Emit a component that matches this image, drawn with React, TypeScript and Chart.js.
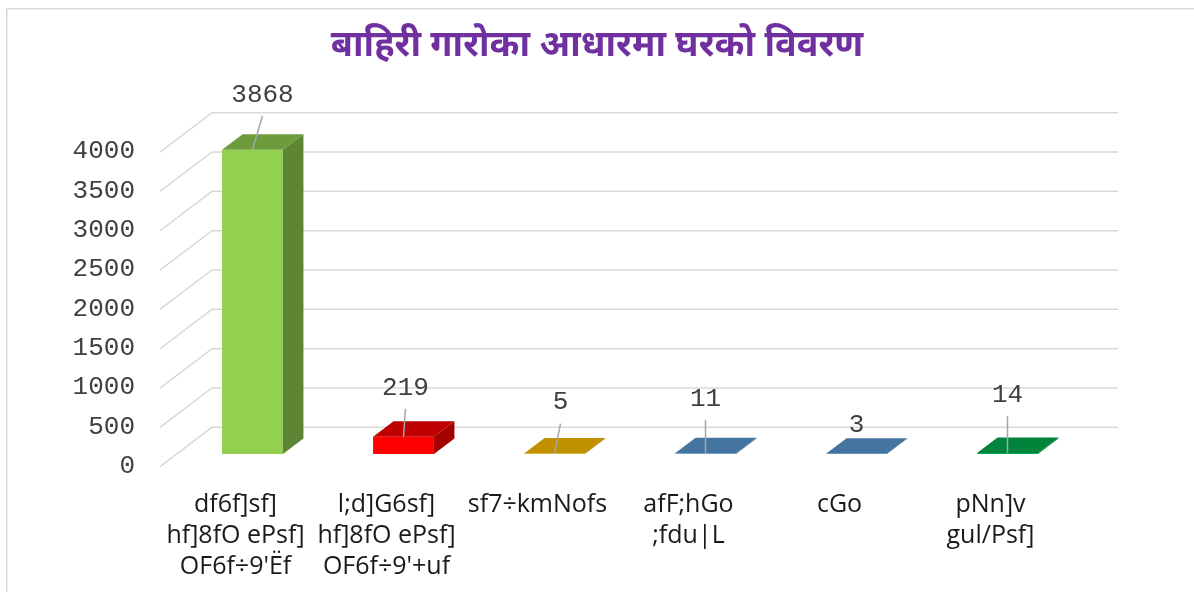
import { useEffect, useRef } from "react";
import { Chart, registerables } from "chart.js";

Chart.register(...registerables);

const titleText = "बाहिरी गारोका आधारमा घरको विवरण";
const categories: string[][] = [
  ["df6f]sf]", "hf]8fO ePsf]", "OF6f÷9'Ëf"],
  ["l;d]G6sf]", "hf]8fO ePsf]", "OF6f÷9'+uf"],
  ["sf7÷kmNofs"],
  ["afF;hGo", ";fdu|L"],
  ["cGo"],
  ["pNn]v", "gul/Psf]"],
];
const values = [3868, 219, 5, 11, 3, 14];
const barColors = ["#92D050", "#FF0000", "#FFC000", "#5B9BD5", "#5B9BD5", "#00B050"];
const yMin = 0;
const yMax = 4000;
const yStep = 500;

// label placement nudges (pixels), styling only
const labelNudgeX = [10, 2, 6, 0, 0, 0];
const labelNudgeY = [55, 49, 51, 54, 29, 58];

const BAR_DX = 20.5;
const BAR_DY = -15.5;
const BACK_DX = 35;
const BACK_DY = -26.7;
const FRONT_DX = -17;
const FRONT_DY = 12.7;
const MONO = "'Liberation Mono', 'DejaVu Sans Mono', monospace";

function shade(hex: string, f: number) {
  const n = parseInt(hex.slice(1), 16);
  const r = Math.round(((n >> 16) & 255) * f);
  const g = Math.round(((n >> 8) & 255) * f);
  const b = Math.round((n & 255) * f);
  return `rgb(${r},${g},${b})`;
}

const threeDPlugin = {
  id: "threeD",
  beforeDraw(chart: any) {
    const ctx = chart.ctx;
    ctx.save();
    ctx.fillStyle = "#ffffff";
    ctx.fillRect(0, 0, chart.width, chart.height);
    ctx.strokeStyle = "#D9D9D9";
    ctx.lineWidth = 1.5;
    ctx.strokeRect(6.75, 8.75, chart.width + 50, chart.height + 50);
    ctx.restore();
  },
  beforeDatasetsDraw(chart: any) {
    const ctx = chart.ctx;
    const ys = chart.scales.y;
    const { left, right } = chart.chartArea;
    ctx.save();
    ctx.strokeStyle = "#D9D9D9";
    ctx.lineWidth = 1.5;
    ys.ticks.forEach((t: any) => {
      const p = ys.getPixelForValue(t.value);
      ctx.beginPath();
      ctx.moveTo(left + FRONT_DX, p + FRONT_DY);
      ctx.lineTo(left + BACK_DX, p + BACK_DY);
      ctx.lineTo(right + BACK_DX, p + BACK_DY);
      ctx.stroke();
    });
    ctx.restore();
  },
  afterDatasetsDraw(chart: any) {
    const ctx = chart.ctx;
    const meta = chart.getDatasetMeta(0);
    ctx.save();
    meta.data.forEach((bar: any, i: number) => {
      const { x, y, base, width } = bar.getProps(["x", "y", "base", "width"], true);
      const L = x - width / 2;
      const R = x + width / 2;
      const c = barColors[i];
      ctx.fillStyle = shade(c, 0.75);
      ctx.beginPath();
      ctx.moveTo(L, y);
      ctx.lineTo(R, y);
      ctx.lineTo(R + BAR_DX, y + BAR_DY);
      ctx.lineTo(L + BAR_DX, y + BAR_DY);
      ctx.closePath();
      ctx.fill();
      ctx.fillStyle = shade(c, 0.64);
      ctx.beginPath();
      ctx.moveTo(R, y);
      ctx.lineTo(R + BAR_DX, y + BAR_DY);
      ctx.lineTo(R + BAR_DX, base + BAR_DY);
      ctx.lineTo(R, base);
      ctx.closePath();
      ctx.fill();
    });
    meta.data.forEach((bar: any, i: number) => {
      const { x, y } = bar.getProps(["x", "y"], true);
      const lx = x + labelNudgeX[i];
      const ly = y - labelNudgeY[i];
      if (labelNudgeY[i] > 35) {
        ctx.strokeStyle = "#A6A6A6";
        ctx.lineWidth = 1.5;
        ctx.beginPath();
        ctx.moveTo(x, y);
        ctx.lineTo(lx, ly + 21);
        ctx.stroke();
      }
      ctx.fillStyle = "#404040";
      ctx.font = `26px ${MONO}`;
      ctx.textAlign = "center";
      ctx.textBaseline = "middle";
      ctx.fillText(String(values[i]), lx, ly);
    });
    ctx.restore();
  },
};

export default function App() {
  const ref = useRef<HTMLCanvasElement | null>(null);
  useEffect(() => {
    if (!ref.current) return;
    const chart = new Chart(ref.current, {
      type: "bar",
      data: {
        labels: categories,
        datasets: [
          {
            data: values,
            backgroundColor: barColors,
            borderWidth: 0,
            barPercentage: 0.403,
            categoryPercentage: 1,
            yAxisID: "y",
          },
        ],
      },
      options: {
        responsive: false,
        devicePixelRatio: 1,
        animation: false,
        events: [],
        layout: { padding: 0 },
        plugins: {
          legend: { display: false },
          tooltip: { enabled: false },
          title: {
            display: true,
            text: titleText,
            color: "#7030A0",
            font: { family: "'Noto Sans Devanagari', 'Noto Sans', sans-serif", size: 36, weight: "bold", lineHeight: 1.2 },
            padding: { top: 27.4, bottom: 68.8 },
          },
        },
        scales: {
          x: {
            type: "category",
            offset: true,
            grid: { display: false, drawTicks: false },
            border: { display: false },
            ticks: {
              color: "#1a1a1a",
              font: { family: "'Open Sans', 'Noto Sans', sans-serif", size: 25, lineHeight: 1.25 },
              padding: 35,
              labelOffset: FRONT_DX,
              autoSkip: false,
              maxRotation: 0,
              minRotation: 0,
            },
            afterFit: (s: any) => {
              s.height = 138;
              s.paddingLeft = 0;
              s.paddingRight = 0;
            },
          },
          y: {
            position: "left",
            min: yMin,
            max: yMax,
            grid: { display: false, drawTicks: false },
            border: { display: false },
            ticks: {
              stepSize: yStep,
              color: "#404040",
              font: { family: MONO, size: 26 },
              padding: 42,
              labelOffset: 12,
              callback: (v: any) => String(v),
            },
            afterFit: (s: any) => {
              s.width = 177;
              s.paddingTop = 0;
              s.paddingBottom = 0;
            },
          },
          yRight: {
            position: "right",
            display: true,
            grid: { display: false, drawTicks: false },
            border: { display: false },
            ticks: { display: false },
            afterFit: (s: any) => {
              s.width = 111;
              s.paddingTop = 0;
              s.paddingBottom = 0;
            },
          },
        },
      },
      plugins: [threeDPlugin],
    } as any);
    return () => chart.destroy();
  }, []);
  return (
    <div style={{ position: "fixed", left: 0, top: 0, width: 1194, height: 592, background: "#fff" }}>
      <canvas ref={ref} width={1194} height={592} style={{ display: "block" }} />
    </div>
  );
}
